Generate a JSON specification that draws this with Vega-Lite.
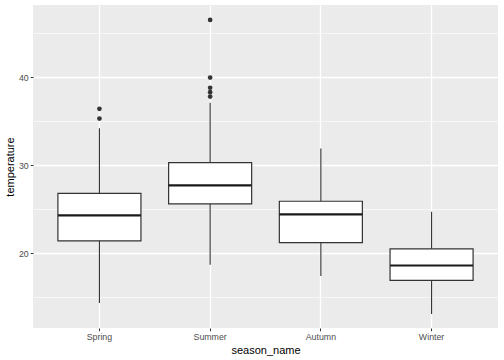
{
  "$schema": "https://vega.github.io/schema/vega-lite/v6.json",
  "autosize": "none",
  "width": 465,
  "height": 323,
  "padding": {"left": 33, "top": 5, "right": 6, "bottom": 32},
  "background": "white",
  "config": {
    "view": {"fill": "#EBEBEB", "stroke": null},
    "font": "Liberation Sans",
    "axis": {
      "domain": false,
      "gridColor": "#FFFFFF",
      "gridWidth": 1.3,
      "tickColor": "#333333",
      "tickSize": 2.75,
      "tickWidth": 1,
      "labelColor": "#4D4D4D",
      "labelFontSize": 8.8,
      "labelFont": "Liberation Sans",
      "labelPadding": 2,
      "titleFont": "Liberation Sans",
      "titleFontSize": 11,
      "titleFontWeight": "normal",
      "titleColor": "#000000"
    }
  },
  "datasets": {
    "stats": [
      {"season_name": "Spring", "lower": 14.35, "q1": 21.4, "median": 24.3, "q3": 26.8, "upper": 34.2},
      {"season_name": "Summer", "lower": 18.7, "q1": 25.6, "median": 27.7, "q3": 30.3, "upper": 37.1},
      {"season_name": "Autumn", "lower": 17.4, "q1": 21.2, "median": 24.4, "q3": 25.9, "upper": 31.9},
      {"season_name": "Winter", "lower": 13.1, "q1": 16.9, "median": 18.6, "q3": 20.5, "upper": 24.7}
    ],
    "outliers": [
      {"season_name": "Spring", "temperature": 36.4},
      {"season_name": "Spring", "temperature": 35.3},
      {"season_name": "Summer", "temperature": 46.5},
      {"season_name": "Summer", "temperature": 39.95},
      {"season_name": "Summer", "temperature": 38.8},
      {"season_name": "Summer", "temperature": 38.3},
      {"season_name": "Summer", "temperature": 37.8}
    ]
  },
  "layer": [
    {
      "data": {"name": "stats"},
      "mark": {"type": "rule", "color": "#333333", "strokeWidth": 1.1},
      "encoding": {
        "x": {
          "field": "season_name", "type": "nominal",
          "sort": ["Spring", "Summer", "Autumn", "Winter"],
          "scale": {"paddingInner": 0, "paddingOuter": 0.1},
          "axis": {"labelAngle": 0, "bandPosition": 0.5, "grid": true, "titlePadding": 3}
        },
        "y": {
          "field": "lower", "type": "quantitative",
          "scale": {"domain": [11.5, 48.2], "nice": false, "zero": false},
          "title": "temperature",
          "axis": {
            "values": [15, 20, 25, 30, 35, 40, 45],
            "grid": true,
            "gridWidth": {"condition": {"test": "datum.value % 10 === 0", "value": 1.3}, "value": 0.6},
            "tickOpacity": {"condition": {"test": "datum.value % 10 === 0", "value": 1}, "value": 0},
            "labelExpr": "datum.value % 10 === 0 ? datum.label : ''",
            "titlePadding": 3
          }
        },
        "y2": {"field": "upper"}
      }
    },
    {
      "data": {"name": "stats"},
      "mark": {"type": "bar", "fill": "#FFFFFF", "stroke": "#333333", "strokeWidth": 1.2, "width": {"band": 0.75}},
      "encoding": {
        "x": {"field": "season_name", "type": "nominal", "sort": ["Spring", "Summer", "Autumn", "Winter"]},
        "y": {"field": "q1", "type": "quantitative"},
        "y2": {"field": "q3"}
      }
    },
    {
      "data": {"name": "stats"},
      "mark": {"type": "tick", "color": "#1A1A1A", "size": 83, "thickness": 2.2, "opacity": 1},
      "encoding": {
        "x": {"field": "season_name", "type": "nominal", "sort": ["Spring", "Summer", "Autumn", "Winter"]},
        "y": {"field": "median", "type": "quantitative"}
      }
    },
    {
      "data": {"name": "outliers"},
      "mark": {"type": "point", "filled": true, "color": "#333333", "size": 22, "opacity": 1},
      "encoding": {
        "x": {"field": "season_name", "type": "nominal", "sort": ["Spring", "Summer", "Autumn", "Winter"]},
        "y": {"field": "temperature", "type": "quantitative"}
      }
    }
  ]
}
